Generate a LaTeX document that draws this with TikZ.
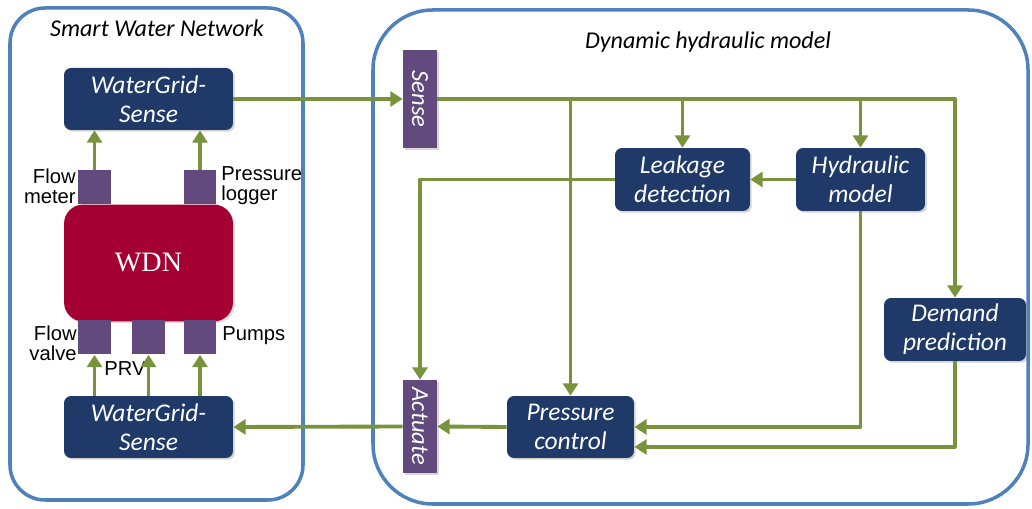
\documentclass[tikz,border=0pt]{standalone}
\usepackage{fontspec}
\setmainfont{Carlito}
\newfontfamily\arialfont{Liberation Sans}
\newfontfamily\timesfont{Liberation Serif}
\usetikzlibrary{arrows.meta,shadows,calc}
\definecolor{boxblue}{RGB}{31,58,104}
\definecolor{tagpurple}{RGB}{98,74,126}
\definecolor{wdnred}{RGB}{165,0,52}
\definecolor{flowgreen}{RGB}{119,147,60}
\definecolor{frameblue}{RGB}{79,129,189}
\tikzset{
	box/.style={fill=boxblue, rounded corners=4pt, text=white, align=center, inner sep=0pt,
		font=\fontsize{14.5}{16.5}\selectfont\itshape,
		drop shadow={opacity=0.35, shadow xshift=1pt, shadow yshift=-1pt}},
	tag/.style={fill=tagpurple, text=white, inner sep=0pt, minimum width=0.68cm,
		font=\fontsize{14}{16}\selectfont\itshape,
		drop shadow={opacity=0.3, shadow xshift=1pt, shadow yshift=-1pt}},
	sensor/.style={fill=tagpurple, inner sep=0pt, minimum width=0.66cm, minimum height=0.68cm},
	lbl/.style={font=\arialfont\fontsize{11.5}{11.5}\selectfont, inner sep=0pt},
	title/.style={font=\fontsize{13.7}{16}\selectfont\itshape},
	flow/.style={draw=flowgreen, line width=2.2pt},
	frame/.style={draw=frameblue, line width=2pt}
}
\begin{document}
\begin{tikzpicture}[x=0.02cm, y=-0.02cm, line join=round, >={Triangle[width=8.5pt,length=7pt]}]
	\useasboundingbox (0,0) rectangle (1032,509);
	% the two frames
	\draw[frame, rounded corners=20pt] (10,8) rectangle (303,500);
	\draw[frame, rounded corners=34pt] (373,10) rectangle (1028,504);
	\node[title] (swn) at (157,28) {Smart Water Network};
	\node[title] (dhm) at (708,42) {Dynamic hydraulic model};
	% smart water network
	\node[box, minimum width=3.38cm, minimum height=1.24cm] (wgsTop) at (148.5,99) {WaterGrid-\\Sense};
	\node[box, minimum width=3.38cm, minimum height=1.24cm] (wgsBot) at (148.5,427) {WaterGrid-\\Sense};
	\node[fill=wdnred, rounded corners=11pt, minimum width=3.38cm, minimum height=2.34cm, text=white,
		font=\timesfont\fontsize{16}{18}\selectfont,
		drop shadow={opacity=0.3, shadow xshift=1pt, shadow yshift=-1pt}] (wdn) at (148.5,263) {WDN};
	\node[sensor] (fm) at (94.5,187.5) {};
	\node[sensor] (pl) at (200,187) {};
	\node[sensor] (fv) at (94.5,337.5) {};
	\node[sensor] (prv) at (148.5,337.5) {};
	\node[sensor] (pu) at (200,337.5) {};
	\node[lbl, anchor=east, align=right] (fmL) at (76,186) {Flow\\meter};
	\node[lbl, anchor=west, align=left] (plL) at (221,186) {Pressure\\logger};
	\node[lbl, anchor=east, align=right] (fvL) at (77,343) {Flow\\valve};
	\node[lbl] (prvL) at (125,369) {PRV};
	\node[lbl, anchor=west] (puL) at (222,336) {Pumps};
	\foreach \s in {fm,pl}
		\draw[flow,->] (\s.north) -- (wgsTop.south -| \s.north);
	\foreach \s in {fv,prv,pu}
		\draw[flow,->] (wgsBot.north -| \s.south) -- (\s.south);
	% dynamic hydraulic model
	\node[tag, minimum height=1.96cm] (sense) at (420,99) {\rotatebox{-90}{Sense}};
	\node[tag, minimum height=1.86cm] (act) at (420,426.5) {\rotatebox{-90}{Actuate}};
	\node[box, minimum width=2.7cm, minimum height=1.26cm] (leak) at (682.5,179.5) {Leakage\\detection};
	\node[box, minimum width=2.58cm, minimum height=1.26cm] (hyd) at (860.5,179.5) {Hydraulic\\model};
	\node[box, minimum width=2.84cm, minimum height=1.26cm] (dem) at (955,329.5) {Demand\\prediction};
	\node[box, minimum width=2.54cm, minimum height=1.24cm] (pres) at (570.5,427) {Pressure\\control};
	\draw[flow,->] (wgsTop.east) -- (sense.west);
	\draw[flow,->] (sense.east) -| (dem.north);
	\foreach \n in {pres,leak,hyd}
		\draw[flow,->] (\n.north |- sense.east) -- (\n.north);
	\draw[flow,->] (hyd.west) -- (leak.east);
	\draw[flow,->] (leak.west) -| (act.north);
	\draw[flow,->] (hyd.south) |- (pres.east);
	\draw[flow,->] (dem.south) |- ($(pres.east)+(0,20)$);
	\draw[flow,->] (pres.west) -- (act.east);
	\draw[flow,->] (act.west) -- (wgsBot.east);
\end{tikzpicture}
\end{document}
